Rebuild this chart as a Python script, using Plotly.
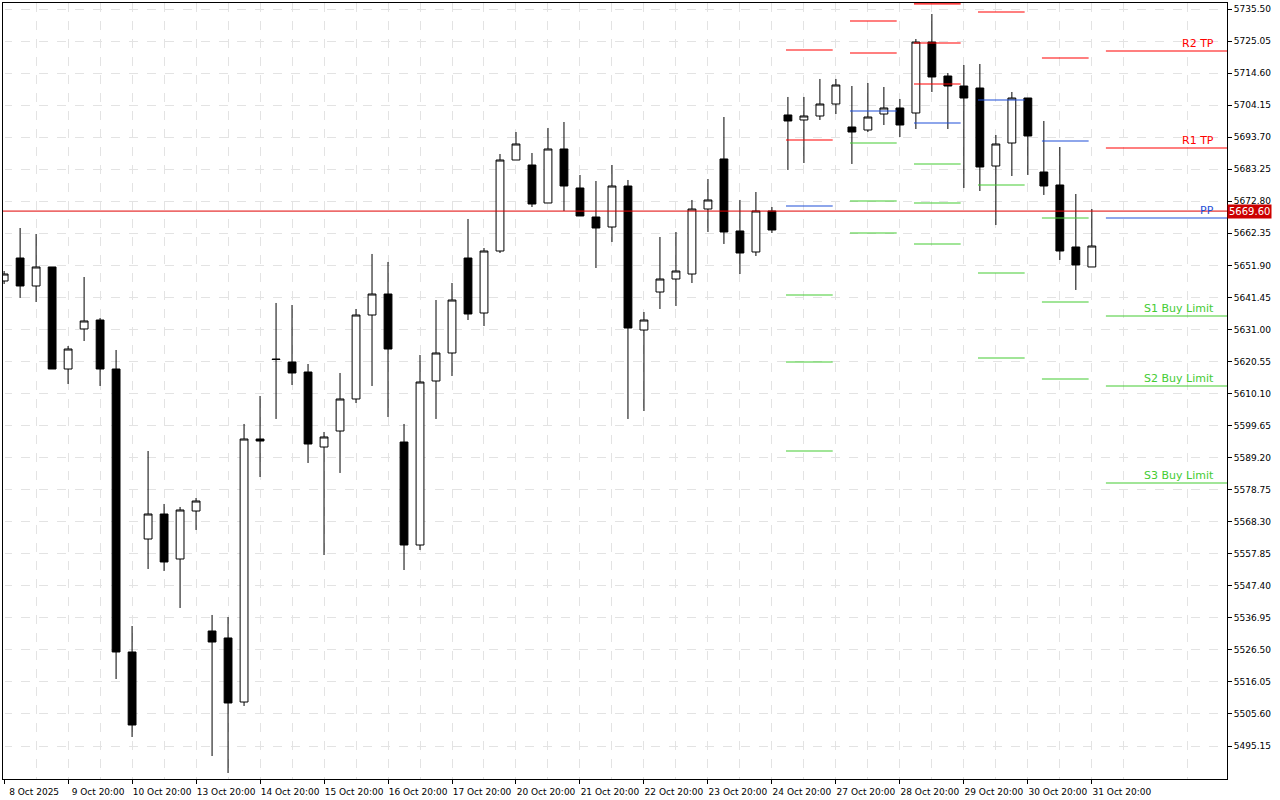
import plotly.graph_objects as go

open_ = [5646.80,5654.30,5645.17,5651.37,5618.10,5631.15,5634.08,5618.10,5525.81,5562.66,
         5570.81,5556.14,5571.79,5532.66,5530.38,5509.50,5595.27,5621.36,5620.38,5617.12,
         5592.66,5597.88,5608.32,5635.71,5642.56,5594.29,5560.70,5614.19,5623.32,5654.30,
         5636.36,5656.58,5686.26,5684.63,5672.24,5689.85,5677.13,5667.67,5664.41,5677.78,
         5630.82,5643.21,5647.45,5649.08,5670.28,5686.59,5663.11,5656.26,5669.63,5700.94,
         5699.31,5700.61,5704.52,5697.02,5696.04,5701.26,5703.22,5701.59,5724.74,5713.65,
         5710.39,5709.74,5684.30,5691.80,5706.48,5682.35,5678.11,5657.89,5651.37]
high_ = [5650.06,5664.08,5662.13,5651.37,5625.60,5648.10,5634.73,5624.30,5534.29,5591.36,
         5574.08,5573.10,5576.03,5537.88,5537.22,5600.17,5609.30,5639.63,5638.97,5619.73,
         5597.56,5616.80,5637.67,5655.61,5653.00,5600.17,5622.67,5640.60,5646.15,5667.02,
         5657.56,5688.22,5695.39,5688.54,5696.70,5698.65,5681.37,5679.41,5684.63,5679.74,
         5636.69,5661.15,5662.78,5673.22,5680.06,5700.28,5673.22,5675.82,5670.93,5706.81,
         5706.81,5712.68,5712.68,5710.39,5711.37,5710.07,5706.15,5725.72,5733.87,5714.63,
         5717.24,5717.57,5694.41,5708.44,5706.48,5698.98,5690.50,5675.17,5670.28]
low_ = [5645.82,5641.26,5639.95,5618.10,5613.21,5627.23,5612.56,5517.00,5498.09,5552.88,
        5552.23,5540.16,5565.60,5491.89,5486.35,5508.20,5582.88,5601.80,5612.88,5587.45,
        5557.44,5584.19,5607.01,5612.56,5602.45,5552.55,5559.07,5601.80,5615.82,5634.08,
        5632.12,5655.93,5686.26,5670.93,5672.24,5669.63,5668.00,5651.04,5659.52,5601.80,
        5604.40,5637.67,5638.65,5646.15,5662.78,5658.87,5649.08,5654.95,5662.45,5683.00,
        5685.28,5699.31,5701.26,5684.96,5695.39,5697.67,5693.76,5696.37,5708.44,5696.37,
        5677.13,5676.15,5665.06,5681.04,5681.37,5674.85,5653.65,5643.87,5651.37]
close_ = [5649.08,5645.17,5651.37,5618.10,5624.62,5633.76,5618.10,5525.81,5502.00,5570.81,
          5555.16,5572.12,5575.05,5529.07,5509.18,5595.27,5594.62,5621.20,5616.80,5593.64,
          5595.93,5608.32,5635.71,5642.56,5624.62,5560.70,5613.86,5623.32,5640.60,5636.04,
          5656.58,5686.26,5691.48,5671.91,5689.85,5677.78,5668.00,5664.08,5677.78,5631.47,
          5634.08,5647.45,5650.06,5670.28,5673.22,5662.78,5655.93,5669.63,5663.43,5698.98,
          5700.61,5704.52,5710.72,5695.39,5700.28,5703.22,5697.67,5724.74,5713.33,5710.39,
          5706.48,5683.98,5691.48,5706.48,5694.09,5677.78,5656.58,5652.02,5658.21]

tick_labels = ["8 Oct 2025","9 Oct 20:00","10 Oct 20:00","13 Oct 20:00","14 Oct 20:00",
               "15 Oct 20:00","16 Oct 20:00","17 Oct 20:00","20 Oct 20:00","21 Oct 20:00",
               "22 Oct 20:00","23 Oct 20:00","24 Oct 20:00","27 Oct 20:00","28 Oct 20:00",
               "29 Oct 20:00","30 Oct 20:00","31 Oct 20:00"]

# daily pivot blocks: start bar, resistance levels, pivot, support levels
block_start = [49, 53, 57, 61, 65]
block_res = [[5722.13, 5692.78], [5731.59, 5721.16], [5737.2, 5724.42, 5711.05],
             [5734.53], [5719.53]]
block_pp = [5671.26, 5702.24, 5698.33, 5705.83, 5692.46]
block_sup = [[5642.23, 5620.38, 5591.36], [5691.80, 5672.89, 5662.45],
             [5684.96, 5672.24, 5658.87], [5678.11, 5649.41, 5621.69],
             [5667.35, 5639.95, 5614.84]]

cur_start = 69
cur_names = ["R2 TP", "R1 TP", "PP", "S1 Buy Limit", "S2 Buy Limit", "S3 Buy Limit"]
cur_levels = [5721.81, 5690.17, 5667.35, 5635.39, 5612.56, 5580.92]
cur_colors = ["#ff0000", "#ff0000", "#1f4fd8", "#44cc33", "#44cc33", "#44cc33"]
current_price = 5669.60

y_ticks = [5735.50, 5725.05, 5714.60, 5704.15, 5693.70, 5683.25, 5672.80, 5662.35,
           5651.90, 5641.45, 5631.00, 5620.55, 5610.10, 5599.65, 5589.20, 5578.75,
           5568.30, 5557.85, 5547.40, 5536.95, 5526.50, 5516.05, 5505.60, 5495.15]

n = len(open_)
xs = list(range(n))
RED, BLUE, GREEN = "#ff0000", "#1f4fd8", "#44cc33"

fig = go.Figure()
for s, res, pp, sup in zip(block_start, block_res, block_pp, block_sup):
    for lv, col in [(v, RED) for v in res] + [(pp, BLUE)] + [(v, GREEN) for v in sup]:
        fig.add_trace(go.Scatter(x=[s - 0.12, s + 2.8], y=[lv, lv], mode="lines",
                                 line=dict(color=col, width=1.2), hoverinfo="skip", showlegend=False))
for lv, col in zip(cur_levels, cur_colors):
    fig.add_trace(go.Scatter(x=[cur_start - 0.12, 80], y=[lv, lv], mode="lines",
                             line=dict(color=col, width=1.2), hoverinfo="skip", showlegend=False))

fig.add_trace(go.Candlestick(
    x=xs, open=open_, high=high_, low=low_, close=close_, whiskerwidth=0,
    increasing=dict(line=dict(color="black", width=1), fillcolor="white"),
    decreasing=dict(line=dict(color="black", width=1), fillcolor="black"),
    showlegend=False))

fig.add_shape(type="line", xref="paper", x0=0, x1=1, y0=current_price, y1=current_price,
              line=dict(color="#e00000", width=1))

for name, lv, col in zip(cur_names, cur_levels, cur_colors):
    fig.add_annotation(x=75.75, y=lv, text=name, showarrow=False, xanchor="right",
                       yanchor="bottom", yshift=-1,
                       font=dict(family="DejaVu Sans", size=11, color=col))

fig.add_annotation(xref="paper", x=1.0, y=current_price, text="5669.60", showarrow=False,
                   xanchor="left", yanchor="middle", bgcolor="#cc0000", borderpad=1,
                   font=dict(family="DejaVu Sans", size=10, color="white"))

fig.update_layout(
    width=1280, height=800, margin=dict(l=3, r=53, t=3, b=21),
    paper_bgcolor="white", plot_bgcolor="white",
    font=dict(family="DejaVu Sans", size=9, color="black"),
)
fig.update_xaxes(
    range=[-0.07, 76.45], tickvals=list(range(0, 4 * len(tick_labels), 4)), ticktext=tick_labels,
    ticks="outside", ticklen=4, tickcolor="black", ticklabelshift=30,
    showgrid=True, gridcolor="#e3e3e3", griddash="dash",
    minor=dict(tickvals=list(range(2, n + 8, 4)), showgrid=True, gridcolor="#e3e3e3", griddash="dash"),
    showline=True, linecolor="black", mirror=True, rangeslider=dict(visible=False),
    tickfont=dict(size=9), fixedrange=True)
fig.update_yaxes(
    side="right", range=[5484.39, 5737.46], tickvals=y_ticks,
    ticktext=[f"{v:.2f}" for v in y_ticks], ticks="outside", ticklen=4, tickcolor="black",
    showgrid=True, gridcolor="#e3e3e3", griddash="dash",
    showline=True, linecolor="black", mirror=True, zeroline=False,
    tickfont=dict(size=9))

fig.write_html("out.html", config={"displayModeBar": False})
with open("out.html", encoding="utf-8") as f:
    html = f.read()
html = html.replace("<body>", '<body style="margin:0;overflow:hidden">', 1)
with open("out.html", "w", encoding="utf-8") as f:
    f.write(html)
